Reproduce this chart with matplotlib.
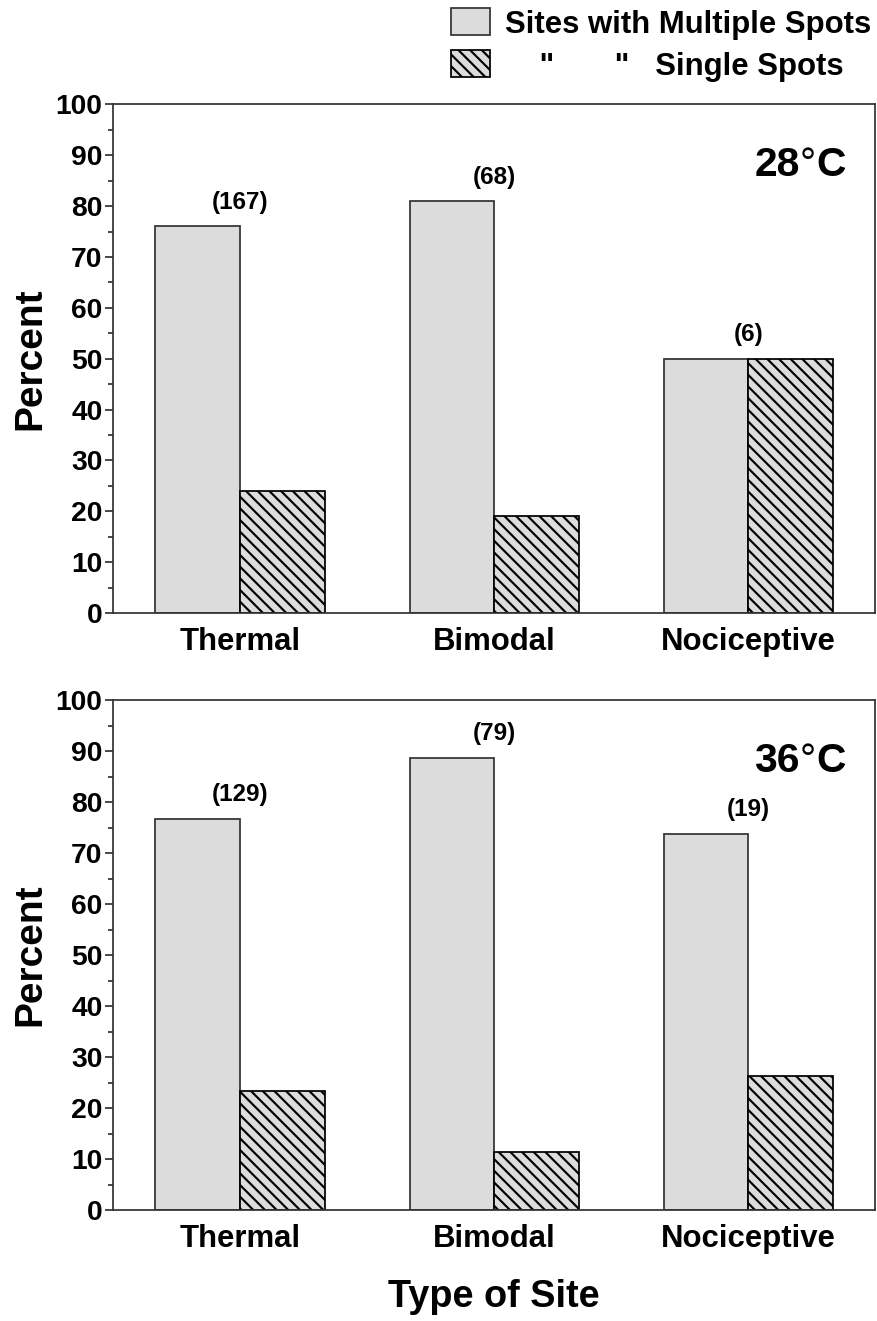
import matplotlib.pyplot as plt
from matplotlib.ticker import MultipleLocator
from matplotlib.offsetbox import TextArea, HPacker, AnchoredOffsetbox

plt.rcParams['font.family'] = ['Liberation Sans', 'DejaVu Sans']
plt.rcParams['font.weight'] = 'bold'
plt.rcParams['hatch.linewidth'] = 1.1

# data
site_types = ['Thermal', 'Bimodal', 'Nociceptive']
multiple_28 = [76.0, 80.9, 50.0]
single_28 = [24.0, 19.1, 50.0]
counts_28 = ['(167)', '(68)', '(6)']
multiple_36 = [76.7, 88.6, 73.7]
single_36 = [23.3, 11.4, 26.3]
counts_36 = ['(129)', '(79)', '(19)']

fill = '#dcdcdc'
edge = '#333333'
w = 1 / 3

fig = plt.figure(figsize=(877 / 140, 1321 / 140), dpi=140)
ax1 = fig.add_axes([0.129, 0.536, 0.869, 0.385])
ax2 = fig.add_axes([0.129, 0.084, 0.869, 0.386])


def draw_panel(ax, multiple, single, counts, temp):
    x = range(len(site_types))
    b1 = ax.bar([i - w / 2 for i in x], multiple, w, color=fill, edgecolor=edge, linewidth=0.9)
    b2 = ax.bar([i + w / 2 for i in x], single, w, color=fill, edgecolor='black', hatch='\\\\\\\\', linewidth=0.9)
    for i in x:
        ax.text(i, max(multiple[i], single[i]) + 4.8, counts[i], ha='center', va='center', fontsize=12.5)
    ax.set_xlim(-0.5, 2.5)
    ax.set_ylim(0, 100)
    ax.set_xticks(list(x))
    ax.set_xticklabels(site_types, fontsize=16)
    ax.tick_params(axis='x', length=0, pad=7)
    ax.yaxis.set_major_locator(MultipleLocator(10))
    ax.yaxis.set_minor_locator(MultipleLocator(5))
    ax.tick_params(axis='y', which='major', length=4, width=0.9, labelsize=14.5, pad=1.5, color=edge)
    ax.tick_params(axis='y', which='minor', length=2.5, width=0.9, color=edge)
    for s in ax.spines.values():
        s.set_linewidth(0.9)
        s.set_color(edge)
    ax.set_ylabel('Percent', fontsize=20, fontweight='bold', labelpad=3.5)

    # temperature label: bold number, thin degree ring
    num, unit = temp
    parts = [TextArea(num, textprops=dict(fontsize=21, fontweight='bold')),
             TextArea('\u00b0', textprops=dict(fontsize=21, fontweight='normal')),
             TextArea(unit, textprops=dict(fontsize=21, fontweight='bold'))]
    box = HPacker(children=parts, align='baseline', pad=0, sep=0)
    anch = AnchoredOffsetbox(loc='upper right', child=box, pad=0, borderpad=0, frameon=False,
                             bbox_to_anchor=(0.961, 0.918), bbox_transform=ax.transAxes)
    ax.add_artist(anch)
    return b1, b2


b1, b2 = draw_panel(ax1, multiple_28, single_28, counts_28, ('28', 'C'))
draw_panel(ax2, multiple_36, single_36, counts_36, ('36', 'C'))
ax2.set_xlabel('Type of Site', fontsize=19.5, fontweight='bold', labelpad=13)

fig.legend([b1, b2], ['Sites with Multiple Spots', '    "       "   Single Spots'],
           loc='upper right', bbox_to_anchor=(1.008, 1.003), frameon=False,
           fontsize=16, handlelength=1.25, handleheight=0.95, handletextpad=0.5,
           labelspacing=0.35, borderaxespad=0.0)

fig.savefig('out.png', dpi=140)
